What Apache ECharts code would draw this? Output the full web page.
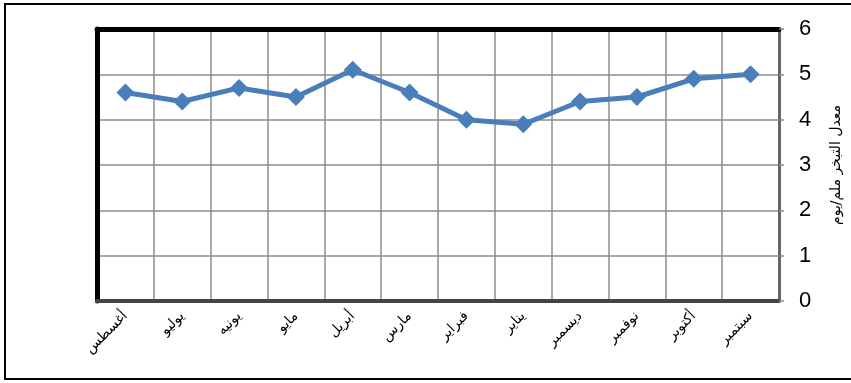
<!DOCTYPE html>
<html><head><meta charset="utf-8">
<script src="https://cdn.jsdelivr.net/npm/echarts@6/dist/echarts.min.js"></script>
<style>
html,body{margin:0;padding:0;background:#fff;}
#frame{position:absolute;left:4px;top:3px;width:900px;height:377px;border:2px solid #000;border-right:none;box-sizing:border-box;}
#c{position:absolute;left:0;top:0;width:851px;height:383px;}
</style></head>
<body>
<div id="frame"></div>
<div id="c"></div>
<script>
const categories = ['أغسطس','يوليو','يونيه','مايو','أبريل','مارس','فبراير','يناير','ديسمبر','نوفمبر','أكتوبر','سبتمبر'];
const evaporation = [4.6, 4.4, 4.7, 4.5, 5.1, 4.6, 4.0, 3.9, 4.4, 4.5, 4.9, 5.0];
const yTicks = [0, 1, 2, 3, 4, 5, 6];
const yName = 'معدل التبخر ملم/يوم';

const chart = echarts.init(document.getElementById('c'), null, {renderer:'canvas'});
chart.setOption({
  animation:false,
  backgroundColor:'transparent',
  grid:{left:97, right:71, top:29, bottom:82, show:false},
  xAxis:[{
    type:'category', data:categories, boundaryGap:true,
    axisLine:{show:true, lineStyle:{color:'#444', width:4}},
    axisTick:{show:false},
    splitLine:{show:true, interval:0, lineStyle:{color:'#8c8c8c', width:1.5}},
    axisLabel:{interval:0, rotate:45, margin:13, fontFamily:'DejaVu Sans', fontSize:14, color:'#000'}
  },{
    type:'category', data:categories, position:'top', boundaryGap:true,
    axisLine:{show:true, onZero:false, lineStyle:{color:'#000', width:5}},
    axisTick:{show:false}, axisLabel:{show:false}, splitLine:{show:false}
  }],
  yAxis:[{
    type:'value', position:'right', min:yTicks[0], max:yTicks[yTicks.length-1], interval:1,
    name:yName, nameLocation:'middle', nameRotate:90, nameGap:50,
    nameTextStyle:{fontFamily:'DejaVu Sans', fontSize:14, color:'#000'},
    axisLine:{show:true, lineStyle:{color:'#666', width:3}},
    axisTick:{show:true, length:5, lineStyle:{color:'#888', width:1.5}},
    splitLine:{show:true, lineStyle:{color:'#8c8c8c', width:1.5}},
    axisLabel:{margin:20, fontFamily:'Liberation Sans', fontSize:22, color:'#000'}
  },{
    type:'value', position:'left', min:yTicks[0], max:yTicks[yTicks.length-1], interval:1,
    axisLine:{show:true, onZero:false, lineStyle:{color:'#000', width:5}},
    axisTick:{show:false}, axisLabel:{show:false}, splitLine:{show:false}
  }],
  series:[{
    type:'line', data:evaporation, xAxisIndex:0, yAxisIndex:0,
    lineStyle:{color:'#4A7EBB', width:5},
    itemStyle:{color:'#4A7EBB'},
    symbol:'diamond', symbolSize:18, z:5
  }]
});
</script>
</body></html>
